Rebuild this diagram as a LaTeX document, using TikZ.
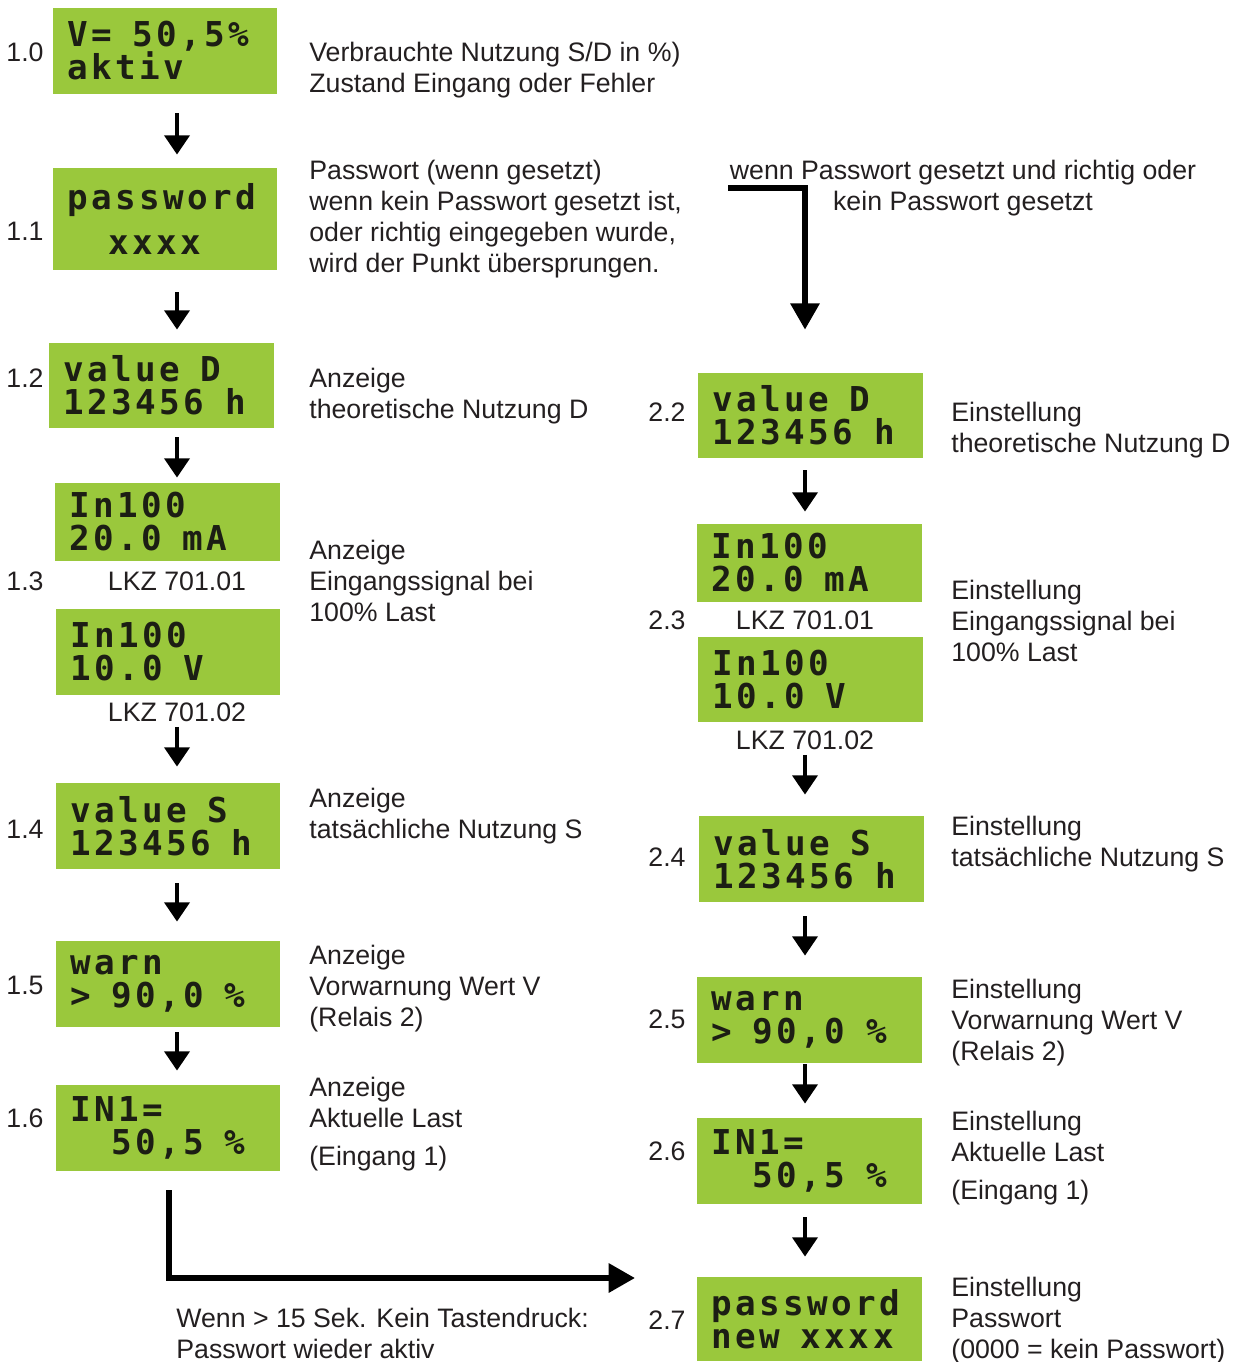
\documentclass[tikz,border=0pt]{standalone}
\usepackage{fontspec}
\setmainfont{Liberation Sans}
\newfontfamily\lcdfont[LetterSpace=10]{DejaVu Sans Mono}
\usetikzlibrary{arrows.meta,calc}

\definecolor{lcdgreen}{RGB}{154,200,60}
\definecolor{lcdink}{RGB}{28,30,20}
\definecolor{txtgray}{RGB}{35,31,32}
\newcommand\lcdtext{\lcdfont\bfseries\fontsize{19.5}{18.8}\selectfont\lineskiplimit=-20pt}
\newcommand\desctext{\fontsize{15.2}{17.6}\selectfont}
\newcommand\cell{\hphantom{0}}

\begin{document}
\begin{tikzpicture}[x=0.02cm, y=-0.02cm,
    lcd/.style={fill=lcdgreen, inner sep=0pt, minimum width=4.5cm, minimum height=1.72cm, text width=3.92cm, align=left, text=lcdink, font=\lcdtext},
    desc/.style={anchor=north west, inner sep=0pt, align=left, text=txtgray, font=\desctext},
    num/.style={inner sep=0pt, text=txtgray, font=\desctext},
    arr/.style={-{Triangle[width=14pt,length=11pt]}, line width=2.8pt},
    bigarr/.style={-{Triangle[width=16pt,length=15pt]}, line width=3.4pt}
]
\useasboundingbox (0,0) rectangle (1234,1362);
\coordinate (colL) at (177,0);
\coordinate (colR) at (805,0);
\coordinate (tcol) at (169,0);

% Anzeige
\node[num] (n10) at (25,52) {1.0};
\node[lcd] (v10) at (165,51) {V=\cell50,5\%\\aktiv};
\node[desc] (d10) at (309,42) {Verbrauchte Nutzung S/D in \%)\\Zustand Eingang oder Fehler};

\node[num] (n11) at (25,231) {1.1};
\node[lcd, minimum height=2.04cm] (v11) at (165,219) {password\\[6.7pt]\cell\cell xxxx};
\node[desc] (d11) at (309,160) {Passwort (wenn gesetzt)\\wenn kein Passwort gesetzt ist,\\oder richtig eingegeben wurde,\\wird der Punkt übersprungen.};

\node[num] (n12) at (25,378) {1.2};
\node[lcd, minimum height=1.7cm] (v12) at (161.5,385.5) {value\cell D\\123456\cell h};
\node[desc] (d12) at (309,368) {Anzeige\\theoretische Nutzung D};

\node[num] (n13) at (25,581) {1.3};
\node[lcd, minimum height=1.56cm] (v13a) at (167.5,522) {In100\\20.0\cell mA};
\node[num] (k13a) at (177,581) {LKZ 701.01};
\node[lcd] (v13b) at (168,652) {In100\\10.0\cell V};
\node[num] (k13b) at (177,712) {LKZ 701.02};
\node[desc] (d13) at (309,540) {Anzeige\\Eingangssignal bei\\100\% Last};

\node[num] (n14) at (25,829) {1.4};
\node[lcd] (v14) at (168,826) {value\cell S\\123456\cell h};
\node[desc] (d14) at (309,788) {Anzeige\\tatsächliche Nutzung S};

\node[num] (n15) at (25,985) {1.5};
\node[lcd] (v15) at (168,984) {warn\\>\cell90,0\cell\%};
\node[desc] (d15) at (309,945) {Anzeige\\Vorwarnung Wert V\\(Relais 2)};

\node[num] (n16) at (25,1118) {1.6};
\node[lcd] (v16) at (168,1128) {IN1=\\\cell\cell50,5\cell\%};
\node[desc] (d16) at (309,1077) {Anzeige\\Aktuelle Last\\[4pt](Eingang 1)};

% Einstellung
\node[num, align=center, anchor=north] (pwtext) at (963,160) {wenn Passwort gesetzt und richtig oder\\kein Passwort gesetzt};

\node[num] (n22) at (667,412) {2.2};
\node[lcd, minimum height=1.7cm] (v22) at (810.5,415.5) {value\cell D\\123456\cell h};
\node[desc] (d22) at (951,402) {Einstellung\\theoretische Nutzung D};

\node[num] (n23) at (667,620) {2.3};
\node[lcd, minimum height=1.56cm] (v23a) at (809.5,563) {In100\\20.0\cell mA};
\node[num] (k23a) at (805,620) {LKZ 701.01};
\node[lcd, minimum height=1.7cm] (v23b) at (810.5,679.5) {In100\\10.0\cell V};
\node[num] (k23b) at (805,740) {LKZ 701.02};
\node[desc] (d23) at (951,580) {Einstellung\\Eingangssignal bei\\100\% Last};

\node[num] (n24) at (667,857) {2.4};
\node[lcd] (v24) at (811.5,859) {value\cell S\\123456\cell h};
\node[desc] (d24) at (951,816) {Einstellung\\tatsächliche Nutzung S};

\node[num] (n25) at (667,1019) {2.5};
\node[lcd] (v25) at (809.5,1020) {warn\\>\cell90,0\cell\%};
\node[desc] (d25) at (951,979) {Einstellung\\Vorwarnung Wert V\\(Relais 2)};

\node[num] (n26) at (667,1151) {2.6};
\node[lcd] (v26) at (809.5,1161) {IN1=\\\cell\cell50,5\cell\%};
\node[desc] (d26) at (951,1111) {Einstellung\\Aktuelle Last\\[4pt](Eingang 1)};

\node[num] (n27) at (667,1320) {2.7};
\node[lcd, minimum height=1.68cm] (v27) at (809.5,1319) {password\\new\cell xxxx};
\node[desc] (d27) at (951,1277) {Einstellung\\Passwort\\(0000 = kein Passwort)};

\node[desc] (tout) at (176,1308) {Wenn > 15 Sek. Kein Tastendruck:\\Passwort wieder aktiv};

% Pfeile links
\draw[arr, shorten <=0.38cm, shorten >=0.26cm] (v10.south -| colL) -- (v11.north -| colL);
\draw[arr, shorten <=0.44cm, shorten >=0.26cm] (v11.south -| colL) -- (v12.north -| colL);
\draw[arr, shorten <=0.18cm, shorten >=0.1cm] (v12.south -| colL) -- (v13a.north -| colL);
\draw[arr, shorten <=0.1cm, shorten >=0.32cm] (k13b.south -| colL) -- (v14.north -| colL);
\draw[arr, shorten <=0.28cm, shorten >=0.38cm] (v14.south -| colL) -- (v15.north -| colL);
\draw[arr, shorten <=0.1cm, shorten >=0.28cm] (v15.south -| colL) -- (v16.north -| colL);
% Pfeile rechts
\draw[arr, shorten <=0.24cm, shorten >=0.24cm] (v22.south -| colR) -- (v23a.north -| colR);
\draw[arr, shorten <=0.1cm, shorten >=0.42cm] (k23b.south -| colR) -- (v24.north -| colR);
\draw[arr, shorten <=0.28cm, shorten >=0.42cm] (v24.south -| colR) -- (v25.north -| colR);
\draw[arr, shorten <=0.02cm, shorten >=0.28cm] (v25.south -| colR) -- (v26.north -| colR);
\draw[arr, shorten <=0.26cm, shorten >=0.4cm] (v26.south -| colR) -- (v27.north -| colR);

% Sprünge
\coordinate (pwstart) at (728,188);
\draw[bigarr, shorten >=0.86cm] (pwstart) -| (v22.north -| colR);
\coordinate (tend) at (635,1278);
\draw[bigarr, shorten <=0.38cm] (v16.south -| tcol) |- (tend);
\end{tikzpicture}
\end{document}
